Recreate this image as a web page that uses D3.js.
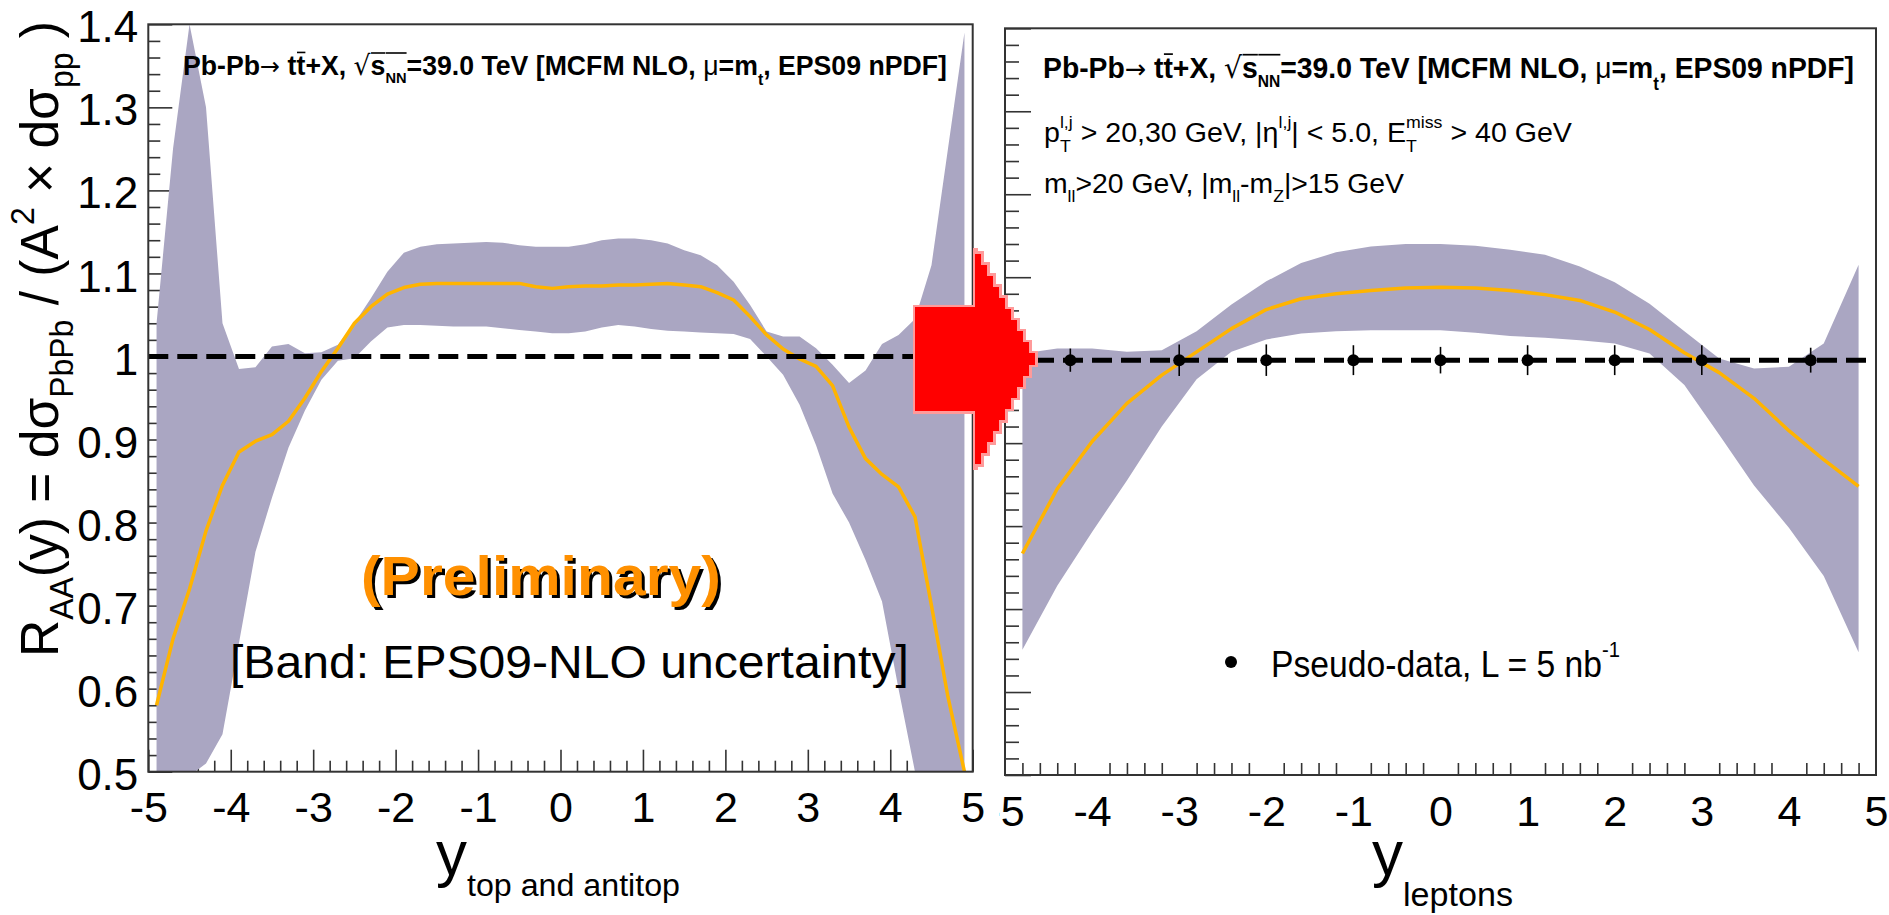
<!DOCTYPE html>
<html>
<head>
<meta charset="utf-8">
<script src="https://cdn.jsdelivr.net/npm/d3@7"></script>
<style>
  html, body { margin: 0; padding: 0; background: #fff; }
  svg { display: block; }
</style>
</head>
<body>
<svg id="chart" width="1889" height="915"></svg>
<script>
// ---------------- data ----------------
// Left pad: top / antitop rapidity, EPS09 central value and uncertainty band
const yTop = [-4.9,-4.7,-4.5,-4.3,-4.1,-3.9,-3.7,-3.5,-3.3,-3.1,-2.9,-2.7,-2.5,-2.3,-2.1,-1.9,-1.7,-1.5,-1.3,-1.1,
              -0.9,-0.7,-0.5,-0.3,-0.1,0.1,0.3,0.5,0.7,0.9,1.1,1.3,1.5,1.7,1.9,2.1,2.3,2.5,2.7,2.9,
              3.1,3.3,3.5,3.7,3.9,4.1,4.3,4.5,4.7,4.9];
const topCentral = [0.58,0.66,0.72,0.79,0.845,0.885,0.898,0.906,0.922,0.950,0.982,1.010,1.040,1.060,1.075,1.083,1.087,1.088,1.088,1.088,
                    1.088,1.088,1.088,1.084,1.082,1.084,1.085,1.085,1.086,1.086,1.087,1.088,1.086,1.084,1.077,1.068,1.048,1.026,1.009,0.997,
                    0.988,0.965,0.915,0.877,0.858,0.843,0.807,0.700,0.590,0.500];
const topUpper = [1.04,1.25,1.40,1.30,1.04,0.985,0.987,1.012,1.015,1.004,1.005,1.014,1.040,1.070,1.102,1.125,1.132,1.135,1.136,1.137,
                  1.138,1.137,1.134,1.132,1.132,1.132,1.135,1.140,1.142,1.142,1.140,1.136,1.128,1.122,1.110,1.090,1.062,1.030,1.024,1.024,
                  1.010,0.990,0.968,0.983,1.015,1.026,1.045,1.110,1.250,1.390];
const topLower = [0.42,0.46,0.495,0.51,0.545,0.655,0.765,0.83,0.89,0.935,0.972,0.995,0.998,1.018,1.035,1.038,1.038,1.037,1.036,1.036,
                  1.036,1.034,1.032,1.030,1.028,1.028,1.030,1.035,1.038,1.036,1.033,1.031,1.030,1.029,1.028,1.027,1.021,1.000,0.978,0.942,
                  0.893,0.835,0.800,0.755,0.705,0.600,0.500,0.440,0.400,0.380];

// Right pad: lepton rapidity
const yLep = [-4.8,-4.4,-4.0,-3.6,-3.2,-2.8,-2.4,-2.0,-1.6,-1.2,-0.8,-0.4,0,0.4,0.8,1.2,1.6,2.0,2.4,2.8,3.2,3.6,4.0,4.4,4.8];
const lepCentral = [0.767,0.845,0.902,0.948,0.982,1.010,1.038,1.061,1.074,1.080,1.084,1.087,1.088,1.087,1.084,1.079,1.072,1.058,1.037,1.009,0.985,0.954,0.915,0.880,0.848];
const lepUpper = [1.008,1.014,1.014,1.010,1.012,1.035,1.067,1.095,1.117,1.130,1.137,1.140,1.140,1.138,1.133,1.127,1.113,1.094,1.068,1.035,1.002,0.990,0.992,1.020,1.115];
const lepLower = [0.651,0.728,0.793,0.855,0.920,0.977,1.010,1.025,1.032,1.035,1.036,1.036,1.036,1.033,1.029,1.027,1.024,1.020,1.008,0.970,0.910,0.849,0.798,0.740,0.648];

// Pseudo-data for L = 5 nb^-1
const pseudoX = [-4.25,-3,-2,-1,0,1,2,3,4.25];
const pseudoY = [1,1,1,1,1,1,1,1,1];
const pseudoErr = [0.014,0.019,0.019,0.018,0.016,0.018,0.018,0.018,0.015];

// Axis ticks
const yTickVals = [0.5,0.6,0.7,0.8,0.9,1.0,1.1,1.2,1.3,1.4];
const yTickLabels = ["0.5","0.6","0.7","0.8","0.9","1","1.1","1.2","1.3","1.4"];
const xTickVals = [-5,-4,-3,-2,-1,0,1,2,3,4,5];
const xTickLabels = ["-5","-4","-3","-2","-1","0","1","2","3","4","5"];

// ---------------- drawing ----------------
const FONT = '"Liberation Sans", Arial, Helvetica, sans-serif';
const SYM = '"DejaVu Sans", "Liberation Sans", sans-serif';
const BAND = "#aaa6c2", LINE = "#ffb400", AXIS = "#333";
const svg = d3.select("#chart");
const defs = svg.append("defs");
svg.append("rect").attr("width", 1889).attr("height", 915).attr("fill", "#fff");

const xMinor = d3.range(-25, 26).filter(i => i % 5 !== 0).map(i => i / 5);
const yMinor = d3.range(25, 71).filter(i => i % 5 !== 0).map(i => i / 50);

// Simple TLatex-like layout: runs placed one after another, sub/superscripts
// shifted and scaled, optional overline; then the block is squeezed to a width.
function rich(parent, runs, o) {
  const g = parent.append("g");
  let cx = 0, baseStart = 0;
  for (const r of runs) {
    const s = r.s || 1, fs = o.size * s;
    const x0 = r.stack ? baseStart : cx;
    const t = g.append("text")
      .attr("x", x0).attr("y", (r.dy || 0) * o.size)
      .attr("font-family", r.f || FONT)
      .attr("font-size", fs)
      .attr("font-weight", r.w || o.weight || "normal")
      .attr("fill", o.fill || "#000")
      .attr("xml:space", "preserve")
      .style("white-space", "pre")
      .text(r.t);
    const w = t.node().getComputedTextLength();
    if (r.bar !== undefined) {
      g.append("line")
        .attr("x1", x0 + 0.5).attr("x2", x0 + w)
        .attr("y1", r.bar * o.size).attr("y2", r.bar * o.size)
        .attr("stroke", o.fill || "#000").attr("stroke-width", o.barW || 2);
    }
    if (r.stack) cx = Math.max(cx, x0 + w);
    else { baseStart = x0; cx = x0 + w; }
  }
  const sx = o.width ? o.width / cx : 1;
  const rot = o.rotate ? ` rotate(${o.rotate})` : "";
  g.attr("transform", `translate(${o.x},${o.y})${rot} scale(${sx},1)`);
  return g;
}

function styleAxis(a, fontSize) {
  a.attr("font-family", FONT).attr("font-size", fontSize);
  a.select(".domain").remove();
  a.selectAll(".tick line").attr("stroke", AXIS).attr("stroke-width", 1.6);
  a.selectAll(".tick text").attr("fill", "#000");
}

function panel(p) {
  const x = d3.scaleLinear().domain([-5, 5]).range([p.x0, p.x1]);
  const y = d3.scaleLinear().domain([0.5, 1.4]).range([p.y1, p.y0]);
  const g = svg.append("g");

  const clipId = p.id + "-clip";
  defs.append("clipPath").attr("id", clipId).append("rect")
    .attr("x", p.x0).attr("y", p.y0).attr("width", p.x1 - p.x0).attr("height", p.y1 - p.y0);

  // ticks (inward), drawn before the band so the band covers them
  const ax = g.append("g");
  ax.append("g").attr("transform", `translate(0,${p.y1})`)
    .call(d3.axisBottom(x).tickValues(xMinor).tickSize(-p.xMin).tickFormat(""))
    .call(a => styleAxis(a, 10));
  const xMaj = ax.append("g").attr("transform", `translate(0,${p.y1})`)
    .call(d3.axisBottom(x).tickValues(xTickVals).tickSize(-p.xMaj).tickPadding(20)
      .tickFormat(d => xTickLabels[xTickVals.indexOf(d)]))
    .call(a => styleAxis(a, 43));
  if (p.labelClip) {
    defs.append("clipPath").attr("id", p.id + "-lab").append("rect")
      .attr("x", p.labelClip).attr("y", 0).attr("width", 1889).attr("height", 915);
    xMaj.attr("clip-path", `url(#${p.id}-lab)`);
  }
  ax.append("g").attr("transform", `translate(${p.x0},0)`)
    .call(d3.axisLeft(y).tickValues(yMinor).tickSize(-p.yMin).tickFormat(""))
    .call(a => styleAxis(a, 10));
  ax.append("g").attr("transform", `translate(${p.x0},0)`)
    .call(d3.axisLeft(y).tickValues(yTickVals).tickSize(-p.yMaj).tickPadding(10)
      .tickFormat(d => p.yLabels ? yTickLabels[yTickVals.indexOf(d)] : ""))
    .call(a => styleAxis(a, 44))
    .call(a => a.selectAll(".tick text").attr("dy", "0.4em"));

  const plot = g.append("g").attr("clip-path", `url(#${clipId})`);
  const pts = p.xs.map((v, i) => ({x: v, c: p.central[i], hi: p.upper[i], lo: p.lower[i]}));

  plot.append("path").datum(pts)
    .attr("fill", BAND)
    .attr("d", d3.area().x(d => x(d.x)).y0(d => y(d.lo)).y1(d => y(d.hi)));

  plot.append("path").datum(pts)
    .attr("fill", "none").attr("stroke", LINE).attr("stroke-width", 3.5)
    .attr("stroke-linejoin", "round")
    .attr("d", d3.line().x(d => x(d.x)).y(d => y(d.c)));

  plot.append("line")
    .attr("x1", x(-5)).attr("x2", x(5)).attr("y1", y(1)).attr("y2", y(1))
    .attr("stroke", "#000").attr("stroke-width", 5).attr("stroke-dasharray", "20,9");

  g.append("rect")
    .attr("x", p.x0).attr("y", p.y0).attr("width", p.x1 - p.x0).attr("height", p.y1 - p.y0)
    .attr("fill", "none").attr("stroke", AXIS).attr("stroke-width", 2);

  return {g, x, y, plot};
}

// ----- left pad -----
const L = panel({id: "top", x0: 148.3, x1: 972.7, y0: 24.3, y1: 771.7,
  xs: yTop, central: topCentral, upper: topUpper, lower: topLower,
  xMaj: 22, xMin: 11, yMaj: 24, yMin: 12, yLabels: true});

// ----- right pad -----
const R = panel({id: "lep", x0: 1005, x1: 1876, y0: 28.3, y1: 775,
  xs: yLep, central: lepCentral, upper: lepUpper, lower: lepLower,
  xMaj: 23, xMin: 12, yMaj: 26, yMin: 14, yLabels: false, labelClip: 999});

// pseudo-data points with error bars
const pd = pseudoX.map((v, i) => ({x: v, y: pseudoY[i], e: pseudoErr[i]}));
const pg = R.g.append("g");
pg.selectAll("line.err").data(pd).join("line").attr("class", "err")
  .attr("x1", d => R.x(d.x)).attr("x2", d => R.x(d.x))
  .attr("y1", d => R.y(d.y + d.e)).attr("y2", d => R.y(d.y - d.e))
  .attr("stroke", "#000").attr("stroke-width", 1.6);
pg.selectAll("circle").data(pd).join("circle")
  .attr("cx", d => R.x(d.x)).attr("cy", d => R.y(d.y)).attr("r", 6).attr("fill", "#000");

// ----- texts -----
const titleRuns = [
  {t: "Pb-Pb"}, {t: "\u2192", w: "normal", f: SYM, s: 0.9}, {t: " t"}, {t: "t", bar: -0.82}, {t: "+X, "},
  {t: "\u221A", w: "normal", f: SYM}, {t: "s", bar: -0.8}, {t: "NN", s: 0.55, dy: 0.3, bar: -0.8},
  {t: "=39.0 TeV [MCFM NLO, "}, {t: "\u03BC", w: "normal"}, {t: "=m"}, {t: "t", s: 0.6, dy: 0.38},
  {t: ", EPS09 nPDF]"}
];
rich(svg, titleRuns, {x: 183, y: 75, size: 27.5, weight: "bold", width: 764, barW: 1.6});
rich(svg, titleRuns, {x: 1043, y: 78.3, size: 29.5, weight: "bold", width: 811, barW: 1.7});

rich(svg, [
  {t: "p"}, {t: "T", s: 0.62, dy: 0.35}, {t: "l,j", s: 0.62, dy: -0.5, stack: true},
  {t: " > 20,30 GeV, |\u03B7"}, {t: "l,j", s: 0.62, dy: -0.5}, {t: "| < 5.0, E"},
  {t: "T", s: 0.62, dy: 0.35}, {t: "miss", s: 0.62, dy: -0.5, stack: true}, {t: " > 40 GeV"}
], {x: 1044, y: 141.7, size: 28, width: 528});

rich(svg, [
  {t: "m"}, {t: "ll", s: 0.62, dy: 0.35}, {t: ">20 GeV, |m"}, {t: "ll", s: 0.62, dy: 0.35},
  {t: "-m"}, {t: "Z", s: 0.62, dy: 0.35}, {t: "|>15 GeV"}
], {x: 1044, y: 192.7, size: 27.5, width: 360});

// legend
R.g.append("circle").attr("cx", 1231).attr("cy", 662).attr("r", 6).attr("fill", "#000");
rich(svg, [{t: "Pseudo-data, L = 5 nb"}, {t: "-1", s: 0.6, dy: -0.55}],
  {x: 1271, y: 676.7, size: 36.5, width: 349});

// "(Preliminary)" with dark shadow
rich(svg, [{t: "(Preliminary)"}], {x: 364, y: 598, size: 55, weight: "bold", fill: "#000", width: 360});
rich(svg, [{t: "(Preliminary)"}], {x: 361, y: 595, size: 55, weight: "bold", fill: "#ff9000", width: 360});

rich(svg, [{t: "[Band: EPS09-NLO uncertainty]"}], {x: 230, y: 678, size: 46, width: 679});

// axis titles
rich(svg, [{t: "y"}, {t: "top and antitop", s: 0.52, dy: 0.34}], {x: 436, y: 875, size: 62, width: 244});
rich(svg, [{t: "y"}, {t: "leptons", s: 0.55, dy: 0.5}], {x: 1372, y: 875, size: 62, width: 141});

rich(svg, [
  {t: "R"}, {t: "AA", s: 0.62, dy: 0.28}, {t: "(y) = d"}, {t: "\u03C3"}, {t: "PbPb", s: 0.62, dy: 0.28},
  {t: " / (A"}, {t: "2", s: 0.62, dy: -0.45}, {t: " \u00D7 d"}, {t: "\u03C3"}, {t: "pp", s: 0.62, dy: 0.28},
  {t: " )"}
], {x: 58, y: 657, size: 54, width: 636, rotate: -90});

// ----- red arrow between the two pads -----
(function () {
  const bx0 = 915, hx = 975, tipX = 1035, top = 248, bot = 470, bt = 307, bb = 411, cy = (top + bot) / 2;
  const n = 10, pts = [[bx0, bt], [hx, bt], [hx, top]];
  for (let i = 0; i < n; i++) {
    const xa = hx + (tipX - hx) * i / n, xb = hx + (tipX - hx) * (i + 1) / n;
    const ya = top + (cy - top) * (i + 0.5) / n;
    pts.push([xa, ya], [xb, ya]);
  }
  pts.push([tipX, cy]);
  for (let i = n - 1; i >= 0; i--) {
    const xa = hx + (tipX - hx) * i / n, xb = hx + (tipX - hx) * (i + 1) / n;
    const ya = bot - (bot - cy) * (i + 0.5) / n;
    pts.push([xb, ya], [xa, ya]);
  }
  pts.push([hx, bot], [hx, bb], [bx0, bb]);
  const s = pts.map(p => p.join(",")).join(" ");
  svg.append("polygon").attr("points", s).attr("fill", "#ff8c8c")
    .attr("stroke", "#ff9a9a").attr("stroke-width", 5).attr("shape-rendering", "crispEdges");
  svg.append("polygon").attr("points", s).attr("fill", "#ff0000").attr("shape-rendering", "crispEdges");
})();
</script>
</body>
</html>
